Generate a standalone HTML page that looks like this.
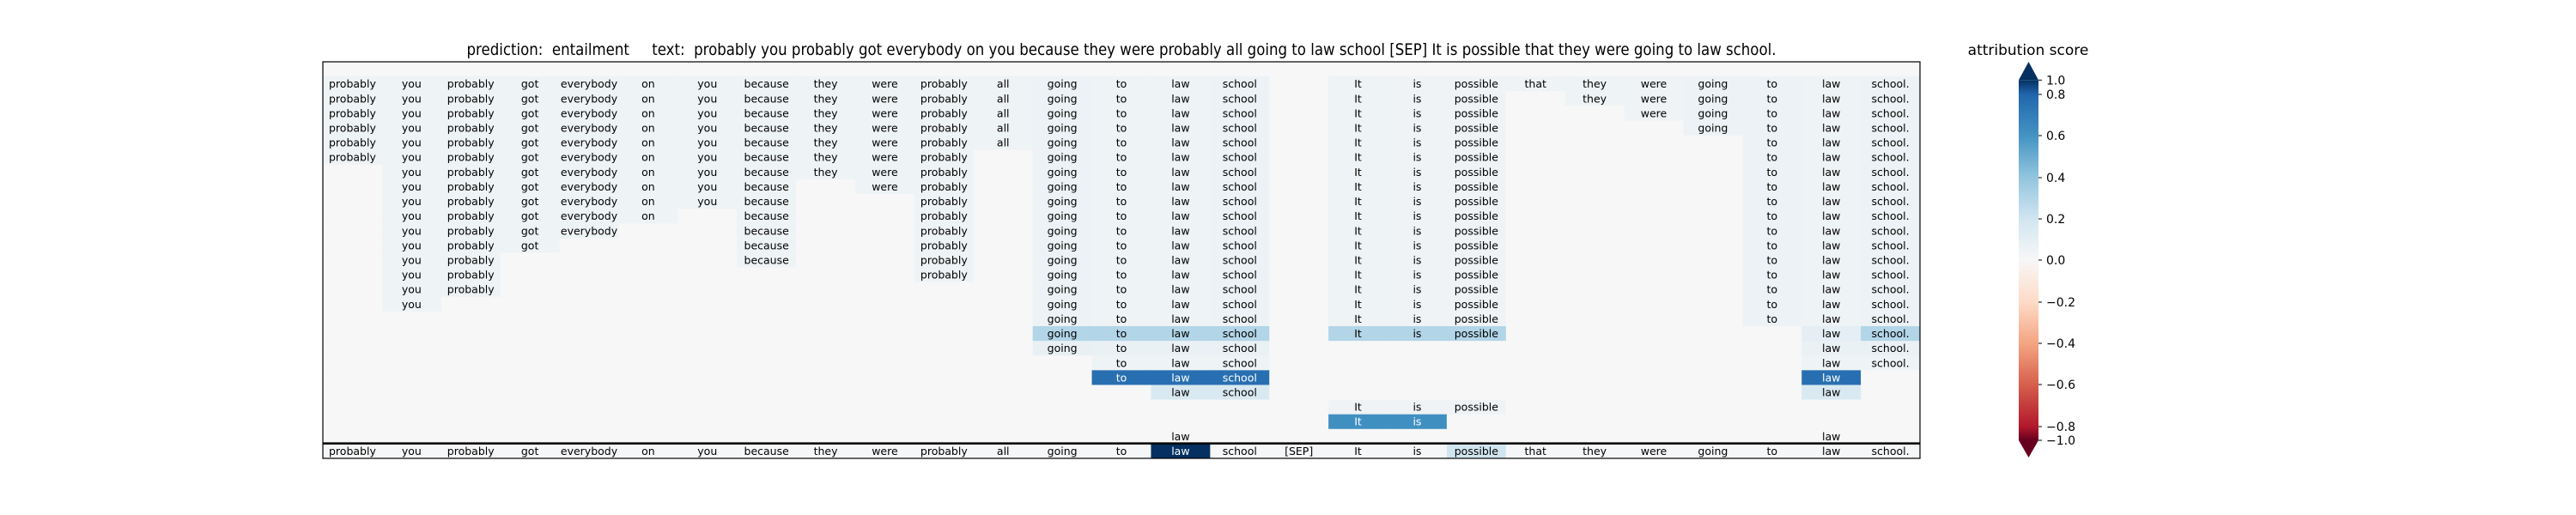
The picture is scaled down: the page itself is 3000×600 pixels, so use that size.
<!DOCTYPE html>
<html><head><meta charset="utf-8">
<style>
html,body{margin:0;padding:0;background:#fff;}
svg{display:block;font-family:"DejaVu Sans","Liberation Sans",sans-serif;}
</style></head>
<body>
<svg id="chart" width="3000" height="600" viewBox="0 0 3000 600" xmlns="http://www.w3.org/2000/svg">
<rect x="0" y="0" width="3000" height="600" fill="#ffffff"/>
<text x="1306" y="64" font-size="19" text-anchor="middle" textLength="1525" lengthAdjust="spacingAndGlyphs" fill="#000" xml:space="preserve">prediction:  entailment     text:  probably you probably got everybody on you because they were probably all going to law school [SEP] It is possible that they were going to law school.</text>
<g id="cells"></g>
<g id="labels"></g>
<line x1="376" x2="2236" y1="516.6" y2="516.6" stroke="#000" stroke-width="2.5"/>
<rect x="376" y="72" width="1860" height="462" fill="none" stroke="#000" stroke-width="1.2"/>
<defs><linearGradient id="cbgrad" x1="0" y1="0" x2="0" y2="1" gradientUnits="userSpaceOnUse"></linearGradient></defs>
<g id="colorbar"></g>
<text x="2362" y="64" font-size="17" text-anchor="middle" fill="#000">attribution score</text>
</svg>
<script>
const tokens = ["probably","you","probably","got","everybody","on","you","because","they","were","probably","all","going","to","law","school","[SEP]","It","is","possible","that","they","were","going","to","law","school."];
const _ = null;
// attribution values per row (null = token removed / empty)
const row0  = [_,_,_,_,_,_,_,_,_,_,_,_,_,_,_,_,_,_,_,_,_,_,_,_,_,_,_];
const row1  = [.05,.05,.05,.05,.05,.05,.05,.05,.05,.05,.05,.05,.06,.05,.05,.06,_,.05,.04,.04,.04,.05,.04,.06,.06,.05,.06];
const row2  = [.05,.05,.05,.05,.05,.05,.05,.05,.05,.05,.05,.05,.06,.05,.05,.06,_,.05,.04,.04,_,.05,.04,.06,.06,.05,.06];
const row3  = [.05,.05,.05,.05,.05,.05,.05,.05,.05,.05,.05,.05,.06,.05,.05,.06,_,.05,.04,.04,_,_,.04,.06,.06,.05,.06];
const row4  = [.05,.05,.05,.05,.05,.05,.05,.05,.05,.05,.05,.05,.06,.05,.05,.06,_,.05,.04,.04,_,_,_,.06,.06,.05,.06];
const row5  = [.05,.05,.05,.05,.05,.05,.05,.05,.05,.05,.05,.05,.06,.05,.05,.06,_,.05,.04,.04,_,_,_,_,.06,.05,.06];
const row6  = [.04,.05,.05,.05,.05,.05,.05,.05,.05,.05,.05,_,.06,.05,.05,.06,_,.05,.04,.04,_,_,_,_,.06,.05,.06];
const row7  = [_,.05,.05,.05,.05,.05,.05,.05,.05,.05,.05,_,.06,.05,.05,.06,_,.05,.04,.04,_,_,_,_,.06,.05,.06];
const row8  = [_,.05,.05,.05,.05,.05,.05,.05,_,.05,.05,_,.06,.05,.05,.06,_,.05,.04,.04,_,_,_,_,.06,.05,.06];
const row9  = [_,.05,.05,.05,.05,.05,.05,.05,_,_,.05,_,.06,.05,.05,.06,_,.05,.04,.04,_,_,_,_,.06,.05,.06];
const row10 = [_,.05,.05,.05,.05,.05,_,.05,_,_,.05,_,.06,.05,.05,.06,_,.05,.04,.04,_,_,_,_,.06,.05,.06];
const row11 = [_,.05,.05,.05,.05,_,_,.05,_,_,.05,_,.06,.05,.05,.06,_,.05,.04,.04,_,_,_,_,.06,.05,.06];
const row12 = [_,.05,.05,.05,_,_,_,.05,_,_,.05,_,.06,.05,.05,.06,_,.05,.04,.04,_,_,_,_,.06,.05,.06];
const row13 = [_,.05,.05,_,_,_,_,.05,_,_,.05,_,.06,.05,.05,.06,_,.05,.04,.04,_,_,_,_,.06,.05,.06];
const row14 = [_,.05,.05,_,_,_,_,_,_,_,.05,_,.06,.05,.05,.06,_,.05,.04,.04,_,_,_,_,.06,.05,.06];
const row15 = [_,.05,.05,_,_,_,_,_,_,_,_,_,.06,.05,.05,.06,_,.05,.04,.04,_,_,_,_,.06,.05,.06];
const row16 = [_,.05,_,_,_,_,_,_,_,_,_,_,.06,.05,.05,.06,_,.05,.04,.04,_,_,_,_,.06,.05,.06];
const row17 = [_,_,_,_,_,_,_,_,_,_,_,_,.06,.05,.05,.06,_,.05,.04,.04,_,_,_,_,.06,.05,.06];
const row18 = [_,_,_,_,_,_,_,_,_,_,_,_,.3,.3,.3,.3,_,.3,.3,.3,_,_,_,_,_,.1,.3];
const row19 = [_,_,_,_,_,_,_,_,_,_,_,_,.08,.07,.07,.07,_,_,_,_,_,_,_,_,_,.07,.07];
const row20 = [_,_,_,_,_,_,_,_,_,_,_,_,_,.05,.05,.05,_,_,_,_,_,_,_,_,_,.05,.05];
const row21 = [_,_,_,_,_,_,_,_,_,_,_,_,_,.76,.76,.76,_,_,_,_,_,_,_,_,_,.76,_];
const row22 = [_,_,_,_,_,_,_,_,_,_,_,_,_,_,.16,.16,_,_,_,_,_,_,_,_,_,.16,_];
const row23 = [_,_,_,_,_,_,_,_,_,_,_,_,_,_,_,_,_,.04,.04,.04,_,_,_,_,_,_,_];
const row24 = [_,_,_,_,_,_,_,_,_,_,_,_,_,_,_,_,_,.62,.62,_,_,_,_,_,_,_,_];
const row25 = [_,_,_,_,_,_,_,_,_,_,_,_,_,_,0,_,_,_,_,_,_,_,_,_,_,0,_];
const row26 = [.01,.01,.01,.01,.01,.01,.01,.01,.01,.01,.01,.01,.01,.01,1.0,.01,.01,.01,.01,.2,.01,.01,.01,.01,.01,.01,.01];
const rows = [row0,row1,row2,row3,row4,row5,row6,row7,row8,row9,row10,row11,row12,row13,row14,row15,row16,row17,row18,row19,row20,row21,row22,row23,row24,row25,row26];
const cbTickValues = [1.0,0.8,0.6,0.4,0.2,0.0,-0.2,-0.4,-0.6,-0.8,-1.0];
const cbTickLabels = ["1.0","0.8","0.6","0.4","0.2","0.0","\u22120.2","\u22120.4","\u22120.6","\u22120.8","\u22121.0"];

const NS = "http://www.w3.org/2000/svg";
const PX0 = 376, PX1 = 2236, PY0 = 72, PY1 = 534;
const colW = (PX1 - PX0) / tokens.length;
const rowH = (PY1 - PY0) / rows.length;
function xPos(c){ return PX0 + c * colW; }
function yPos(r){ return PY0 + r * rowH; }
const stops = [[-1,[103,0,31]],[-0.8,[178,24,43]],[-0.6,[214,96,77]],[-0.4,[244,165,130]],[-0.2,[253,219,199]],[0,[247,247,247]],[0.2,[209,229,240]],[0.4,[146,197,222]],[0.6,[67,147,195]],[0.8,[33,102,172]],[1,[5,48,97]]];
function cmap(v){
  v = Math.max(-1, Math.min(1, v));
  for (let i = 0; i < stops.length - 1; i++) {
    const a = stops[i], b = stops[i+1];
    if (v >= a[0] && v <= b[0]) {
      const t = (v - a[0]) / (b[0] - a[0]);
      const c = a[1].map((x, k) => Math.round(x + (b[1][k] - x) * t));
      return "rgb(" + c.join(",") + ")";
    }
  }
  return "rgb(247,247,247)";
}
const cellsG = document.getElementById("cells");
const labelsG = document.getElementById("labels");
rows.forEach((row, r) => {
  row.forEach((v, c) => {
    const rect = document.createElementNS(NS, "rect");
    rect.setAttribute("x", xPos(c));
    rect.setAttribute("y", yPos(r));
    rect.setAttribute("width", colW + 0.5);
    rect.setAttribute("height", rowH + 0.5);
    rect.setAttribute("fill", cmap(v === null ? 0 : v));
    
    
    cellsG.appendChild(rect);
    if (v !== null) {
      const t = document.createElementNS(NS, "text");
      t.setAttribute("x", xPos(c) + colW / 2);
      t.setAttribute("y", yPos(r) + rowH / 2 + 4.5);
      t.setAttribute("font-size", "12.5");
      t.setAttribute("text-anchor", "middle");
      t.setAttribute("fill", Math.abs(v) > 0.5 ? "#ffffff" : "#000000");
      t.textContent = tokens[c];
      
      
      labelsG.appendChild(t);
    }
  });
});
// colorbar
const cbX = 2351, cbW = 23;
const cbTickY = [93.3,110,158,207,255,303,352,400,448,497,513];
function cbY(v){
  const i = cbTickValues.indexOf(v);
  if (i >= 0) return cbTickY[i];
  for (let k = 0; k < cbTickValues.length - 1; k++) {
    const a = cbTickValues[k], b = cbTickValues[k+1];
    if (v <= a && v >= b) return cbTickY[k] + (a - v) / (a - b) * (cbTickY[k+1] - cbTickY[k]);
  }
  return v > 0 ? cbTickY[0] : cbTickY[cbTickY.length-1];
}
const grad = document.getElementById("cbgrad");
grad.setAttribute("y1", cbY(1)); grad.setAttribute("y2", cbY(-1));
for (let i = 0; i <= 40; i++) {
  const v = 1 - i / 20;
  const s = document.createElementNS(NS, "stop");
  s.setAttribute("offset", ((cbY(v) - cbY(1)) / (cbY(-1) - cbY(1))).toFixed(4));
  s.setAttribute("stop-color", cmap(v));
  grad.appendChild(s);
}
const cbG = document.getElementById("colorbar");
const bar = document.createElementNS(NS, "rect");
bar.setAttribute("x", cbX); bar.setAttribute("y", cbY(1));
bar.setAttribute("width", cbW); bar.setAttribute("height", cbY(-1) - cbY(1));
bar.setAttribute("fill", "url(#cbgrad)");


cbG.appendChild(bar);
const topTri = document.createElementNS(NS, "polygon");
topTri.setAttribute("points", cbX + "," + cbY(1) + " " + (cbX + cbW/2) + ",72 " + (cbX + cbW) + "," + cbY(1));
topTri.setAttribute("fill", cmap(1));


cbG.appendChild(topTri);
const botTri = document.createElementNS(NS, "polygon");
botTri.setAttribute("points", cbX + "," + cbY(-1) + " " + (cbX + cbW/2) + ",533 " + (cbX + cbW) + "," + cbY(-1));
botTri.setAttribute("fill", cmap(-1));


cbG.appendChild(botTri);
cbTickValues.forEach((v, i) => {
  const y = cbY(v);
  const ln = document.createElementNS(NS, "line");
  ln.setAttribute("x1", cbX + cbW); ln.setAttribute("x2", cbX + cbW + 4);
  ln.setAttribute("y1", y); ln.setAttribute("y2", y);
  ln.setAttribute("stroke", "#000"); ln.setAttribute("stroke-width", "1");
  
  
  cbG.appendChild(ln);
  const t = document.createElementNS(NS, "text");
  t.setAttribute("x", cbX + cbW + 9); t.setAttribute("y", y + 5);
  t.setAttribute("font-size", "14");
  t.setAttribute("fill", "#000");
  t.textContent = cbTickLabels[i];
  
  
  cbG.appendChild(t);
});
</script>
</body></html>
